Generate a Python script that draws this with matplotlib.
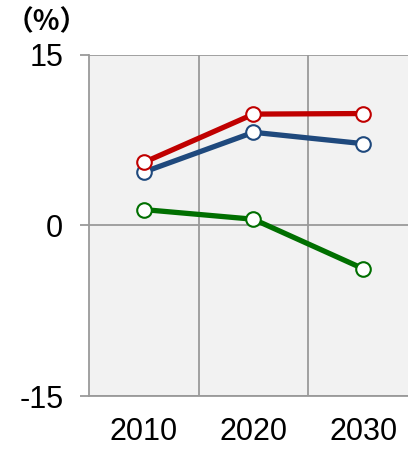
import matplotlib.pyplot as plt

years = ['2010', '2020', '2030']
red_vals = [5.55, 9.8, 9.85]
blue_vals = [4.7, 8.2, 7.2]
green_vals = [1.4, 0.55, -3.8]
yticks = [-15, 0, 15]

plt.rcParams['font.family'] = ['Liberation Sans', 'DejaVu Sans']
plt.rcParams['axes.unicode_minus'] = False

fig = plt.figure(figsize=(4.08, 4.49), dpi=100)
ax = fig.add_axes([89 / 408, 53 / 449, 329 / 408, 341 / 449])
ax.set_facecolor('#f2f2f2')

x = list(range(len(years)))
for vals, col in [(green_vals, '#006f00'), (blue_vals, '#1f497d'), (red_vals, '#c00000')]:
    ax.plot(x, vals, color=col, lw=3.8, marker='o', ms=10.5,
            mfc='white', mec=col, mew=1.5, zorder=3)

ax.set_xlim(-0.5, 2.5)
ax.set_ylim(-15, 15)
ax.set_xticks(x)
ax.set_xticklabels(years)
ax.set_yticks(yticks)
ax.set_xticks([0.5, 1.5], minor=True)

grid_c = '#9a9a9a'
ax.grid(axis='y', which='major', color=grid_c, lw=1.3)
ax.grid(axis='x', which='minor', color=grid_c, lw=1.3)
ax.set_axisbelow(True)

for s in ['top', 'right']:
    ax.spines[s].set_visible(False)
for s in ['left', 'bottom']:
    ax.spines[s].set_color(grid_c)
    ax.spines[s].set_linewidth(1.3)

ax.tick_params(axis='y', length=6.5, width=1.3, color=grid_c, pad=12, labelsize=22)
ax.tick_params(axis='x', which='both', length=0, pad=15, labelsize=22)

fig.text(47 / 408, 1 - 22 / 449, '（%）', ha='center', va='center', fontsize=20,
         fontweight='bold', family=['Noto Sans CJK JP', 'DejaVu Sans'])

fig.savefig('out.png', dpi=100)
